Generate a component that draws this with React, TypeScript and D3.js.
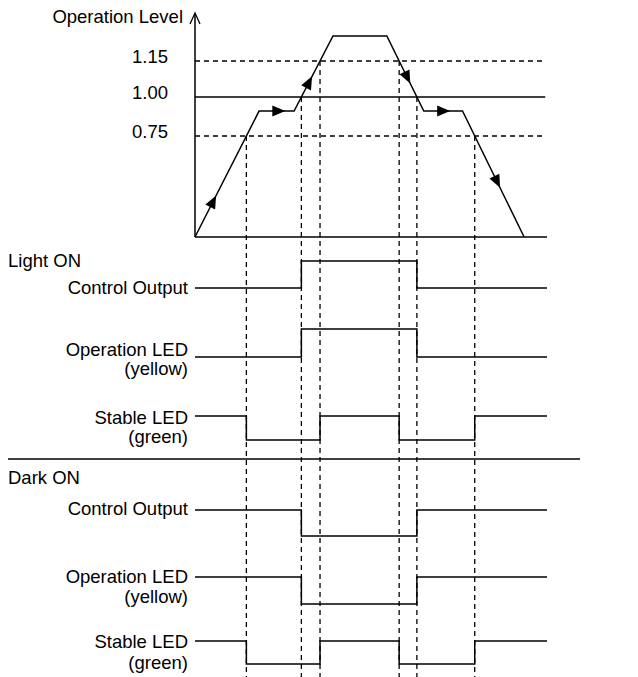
import React from "react";
import * as d3 from "d3";

// operation level waveform (time, level)
const waveT = [0, 3.64, 5.63, 7.84, 10.9, 13.0, 15.2, 18.7];
const waveV = [0, 0.91, 0.91, 1.3, 1.3, 0.91, 0.91, 0];
// where the direction arrows sit along each segment (null = none)
const arrowAt = [0.28, 0.55, 0.38, null, 0.55, 0.5, 0.56];

const levels = [1.15, 1.0, 0.75];
const levelLabels = ["1.15", "1.00", "0.75"];
const levelDashed = [true, false, true];

// which threshold crossings switch each signal (index into crossings list)
// crossings: 0=0.75 up, 1=1.00 up, 2=1.15 up, 3=1.15 down, 4=1.00 down, 5=0.75 down
const controlEdges = [1, 4];
const stableEdges = [0, 2, 3, 5];
const lightControl = [0, 1, 0];
const lightOpLed = [0, 1, 0];
const lightStable = [1, 0, 1, 0, 1];
const darkControl = [1, 0, 1];
const darkOpLed = [1, 0, 1];
const darkStable = [1, 0, 1, 0, 1];

const W = 638;
const H = 677;
const font = "'Liberation Sans', Arial, Helvetica, sans-serif";
const ink = "#000";

const x = d3.scaleLinear().domain([0, 20]).range([195, 547]);
const y = d3
  .scaleLinear()
  .domain([0, 0.75, 1.0, 1.15, 1.3, 1.45])
  .range([237, 136, 97, 61, 36, 13]);

// crossing found in drawn (pixel) space so it sits on the plotted segment
function crossing(level: number, rising: boolean): number {
  for (let i = 0; i < waveT.length - 1; i++) {
    const a = waveV[i], b = waveV[i + 1];
    if (rising ? a < level && b >= level : a > level && b <= level) {
      const f = (y(level) - y(a)) / (y(b) - y(a));
      return waveT[i] + f * (waveT[i + 1] - waveT[i]);
    }
  }
  return 0;
}

const crossLevel = [0.75, 1.0, 1.15, 1.15, 1.0, 0.75];
const crossRising = [true, true, true, false, false, false];
const crossings = crossLevel.map((lv, i) => crossing(lv, crossRising[i]));

function signalPath(states: number[], edges: number[], hi: number, lo: number) {
  const pts: [number, number][] = [];
  const times = [0, ...edges.map((e) => crossings[e]), 20];
  states.forEach((s, i) => {
    const yy = s ? hi : lo;
    pts.push([x(times[i]), yy]);
    pts.push([x(times[i + 1]), yy]);
  });
  return d3.line()(pts) as string;
}

type Row = {
  label: string;
  sub?: string;
  states: number[];
  edges: number[];
  hi: number;
  lo: number;
  base: number;
  subBase?: number;
};

const lightRows: Row[] = [
  { label: "Control Output", states: lightControl, edges: controlEdges, hi: 261, lo: 288, base: 294 },
  { label: "Operation LED", sub: "(yellow)", states: lightOpLed, edges: controlEdges, hi: 329, lo: 357, base: 356, subBase: 375 },
  { label: "Stable LED", sub: "(green)", states: lightStable, edges: stableEdges, hi: 416, lo: 440, base: 424, subBase: 443 },
];
const darkRows: Row[] = [
  { label: "Control Output", states: darkControl, edges: controlEdges, hi: 510, lo: 536, base: 515 },
  { label: "Operation LED", sub: "(yellow)", states: darkOpLed, edges: controlEdges, hi: 577, lo: 604, base: 583, subBase: 603 },
  { label: "Stable LED", sub: "(green)", states: darkStable, edges: stableEdges, hi: 641, lo: 664, base: 648, subBase: 669 },
];

function Arrow({ i, f }: { i: number; f: number }) {
  const x0 = x(waveT[i]), y0 = y(waveV[i]);
  const x1 = x(waveT[i + 1]), y1 = y(waveV[i + 1]);
  const cx = x0 + f * (x1 - x0);
  const cy = y0 + f * (y1 - y0);
  const ang = (Math.atan2(y1 - y0, x1 - x0) * 180) / Math.PI;
  return (
    <path
      d="M7,0 L-6,-5.5 L-6,5.5 Z"
      fill={ink}
      transform={`translate(${cx},${cy}) rotate(${ang})`}
    />
  );
}

function Rows({ rows }: { rows: Row[] }) {
  return (
    <g>
      {rows.map((r) => (
        <g key={r.label + r.hi}>
          <text x={188} y={r.base} textAnchor="end">{r.label}</text>
          {r.sub && (
            <text x={188} y={r.subBase} textAnchor="end">{r.sub}</text>
          )}
          <path d={signalPath(r.states, r.edges, r.hi, r.lo)} fill="none" stroke={ink} strokeWidth={1.5} />
        </g>
      ))}
    </g>
  );
}

export default function App() {
  const wave = d3
    .line<number>()
    .x((_, i) => x(waveT[i]))
    .y((v) => y(v))(waveV) as string;

  return (
    <svg
      width={W}
      height={H}
      style={{ position: "absolute", left: 0, top: 0, background: "#fff" }}
      fontFamily={font}
      fontSize={18.5}
      fill={ink}
    >
      {/* axis */}
      <line x1={x(0)} x2={x(0)} y1={y(0)} y2={y(1.45)} stroke={ink} strokeWidth={1.5} />
      <path d={`M${x(0) - 5},${y(1.45) + 11} L${x(0)},${y(1.45)} L${x(0) + 5},${y(1.45) + 11}`} fill="none" stroke={ink} strokeWidth={1.3} />
      <line x1={x(0)} x2={x(20)} y1={y(0)} y2={y(0)} stroke={ink} strokeWidth={1.5} />
      <text x={183} y={22.5} textAnchor="end">Operation Level</text>

      {levels.map((lv, i) => (
        <g key={lv}>
          <line
            x1={x(0)}
            x2={x(19.9)}
            y1={y(lv)}
            y2={y(lv)}
            stroke={ink}
            strokeWidth={levelDashed[i] ? 1.3 : 1.5}
            strokeDasharray={levelDashed[i] ? "5,4" : undefined}
          />
          <text x={168} y={y(lv) + 2} textAnchor="end">{levelLabels[i]}</text>
        </g>
      ))}

      {/* crossing markers */}
      {crossings.map((t, i) => (
        <line
          key={i}
          x1={x(t)}
          x2={x(t)}
          y1={y(crossLevel[i])}
          y2={H}
          stroke={ink}
          strokeWidth={1.3}
          strokeDasharray="5,4"
        />
      ))}

      <path d={wave} fill="none" stroke={ink} strokeWidth={1.5} />
      {arrowAt.map((f, i) => (f === null ? null : <Arrow key={i} i={i} f={f} />))}

      <text x={8} y={267}>Light ON</text>
      <Rows rows={lightRows} />

      <line x1={8} x2={580} y1={459} y2={459} stroke={ink} strokeWidth={1.3} />

      <text x={8} y={484}>Dark ON</text>
      <Rows rows={darkRows} />
    </svg>
  );
}
